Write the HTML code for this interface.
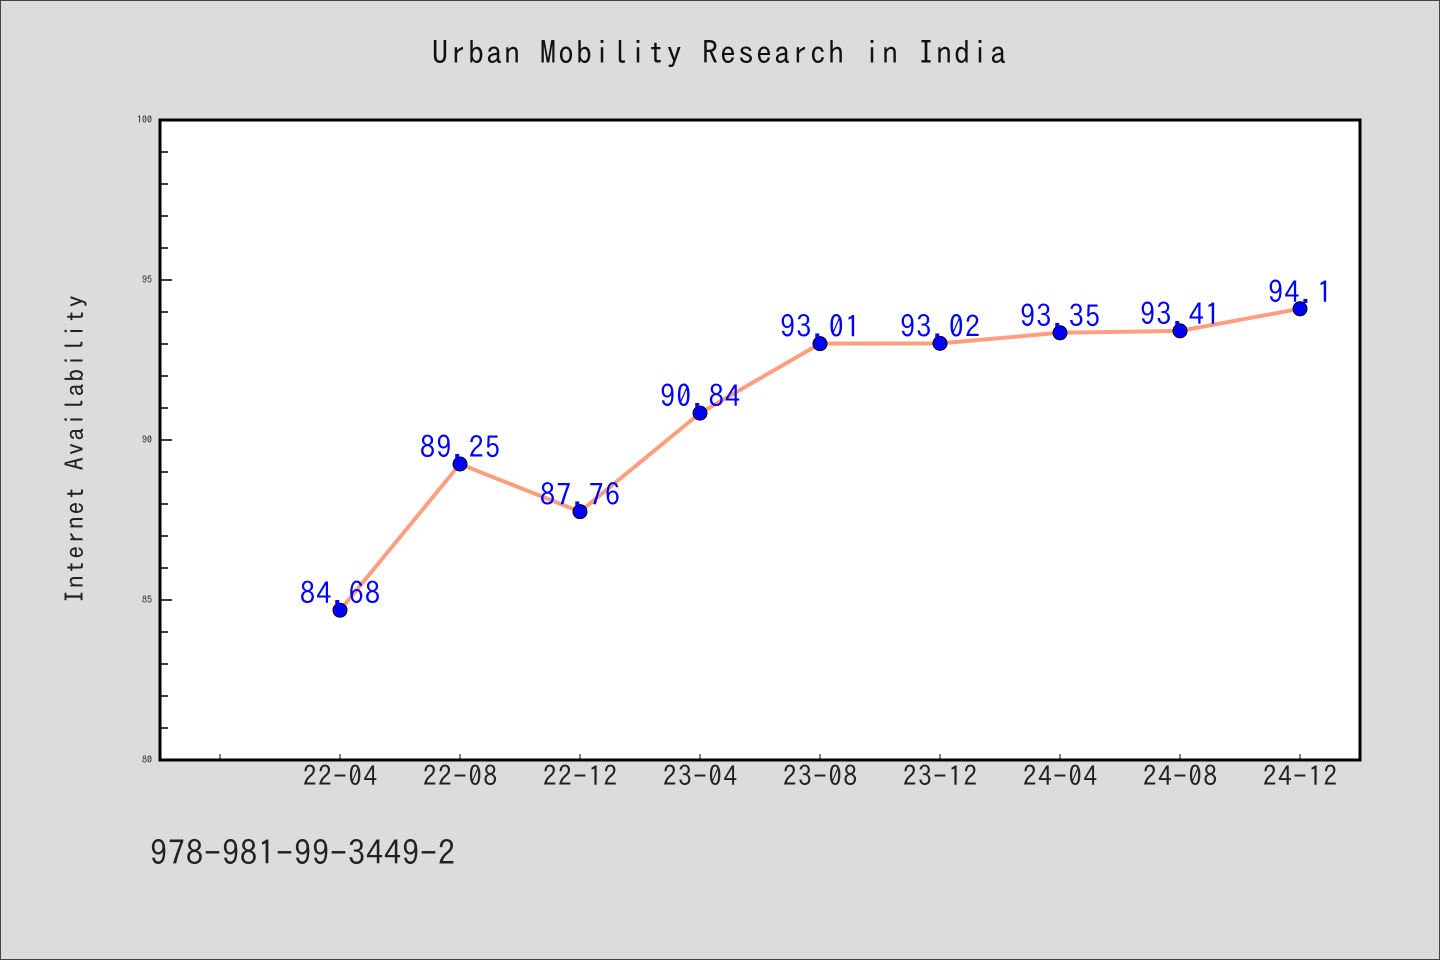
<!DOCTYPE html>
<html><head><meta charset="utf-8"><style>
html,body{margin:0;padding:0;background:#dcdcdc;}
svg{display:block;font-family:"IPAGothic","Liberation Sans",sans-serif;}
</style></head><body>
<svg id="chart" width="1440" height="960" viewBox="0 0 1440 960">
<rect x="0.5" y="0.5" width="1439" height="959" fill="#dcdcdc" stroke="#444" stroke-width="1"/>
<text x="719" y="64" text-anchor="middle" font-size="32" fill="#111" textLength="574" lengthAdjust="spacing">Urban Mobility Research in India</text>
<rect x="160" y="120" width="1200" height="640" fill="#fff"/>
<g id="axes"></g>
<g id="marks"></g>
<rect x="160" y="120" width="1200" height="640" fill="none" stroke="#000" stroke-width="3"/>
<text transform="translate(84,449) rotate(-90)" text-anchor="middle" font-size="26" fill="#222" textLength="308" lengthAdjust="spacing">Internet Availability</text>
<text x="150" y="865" font-size="34" fill="#222" textLength="305" lengthAdjust="spacing">978-981-99-3449-2</text>
</svg>
<script>
const categories = ["22-04","22-08","22-12","23-04","23-08","23-12","24-04","24-08","24-12"];
const values = [84.68, 89.25, 87.76, 90.84, 93.01, 93.02, 93.35, 93.41, 94.1];
const valueLabels = ["84.68","89.25","87.76","90.84","93.01","93.02","93.35","93.41","94.1"];
const yTicks = [80, 85, 90, 95, 100];
const yMin = 80, yMax = 100;
const NS = "http://www.w3.org/2000/svg";
const plotLeft = 160, plotTop = 120, plotW = 1200, plotH = 640;
function yPos(v){ return plotTop + plotH - (v - yMin) / (yMax - yMin) * plotH; }
function xPos(i){ return plotLeft + 60 + (i + 1) * 120; }
function mk(tag, attrs, parent){ const e = document.createElementNS(NS, tag); for (const k in attrs) e.setAttribute(k, attrs[k]); parent.appendChild(e); return e; }
const axesG = document.getElementById("axes");
const marksG = document.getElementById("marks");
for (let v = yMin; v <= yMax; v += 1) {
  const major = yTicks.includes(v);
  const t = mk("line", {x1: plotLeft, x2: plotLeft + (major ? 12 : 8), y1: yPos(v), y2: yPos(v), stroke: "#000", "stroke-width": 1.5}, axesG);
  
  
}
yTicks.forEach(v => {
  const t = mk("text", {x: 152, y: yPos(v) + 3, "text-anchor": "end", "font-size": 10, fill: "#222"}, axesG);
  t.textContent = v;
  
  
});
for (let i = -1; i < categories.length; i++) {
  const t = mk("line", {x1: xPos(i), x2: xPos(i), y1: plotTop + plotH, y2: plotTop + plotH - 6, stroke: "#000", "stroke-width": 1}, axesG);
  
  
}
categories.forEach((c, i) => {
  const t = mk("text", {x: xPos(i), y: 786, "text-anchor": "middle", "font-size": 27, fill: "#222", textLength: 74, lengthAdjust: "spacing"}, axesG);
  t.textContent = c;
  
  
});
const line = mk("polyline", {points: values.map((v, i) => xPos(i) + "," + yPos(v)).join(" "), fill: "none", stroke: "#ff9f7f", "stroke-width": 4, "stroke-linejoin": "round"}, marksG);


values.forEach((v, i) => {
  const c = mk("circle", {cx: xPos(i), cy: yPos(v), r: 7, fill: "#0000ff", stroke: "#000", "stroke-width": 1}, marksG);
  
  
});
values.forEach((v, i) => {
  const lab = valueLabels[i];
  const t = mk("text", {x: xPos(i), y: yPos(v) - 6, "text-anchor": "middle", "font-size": 30, fill: "#0000ff", textLength: lab.length * 16, lengthAdjust: "spacing"}, marksG);
  t.textContent = lab;
  
  
});
</script>
</body></html>
